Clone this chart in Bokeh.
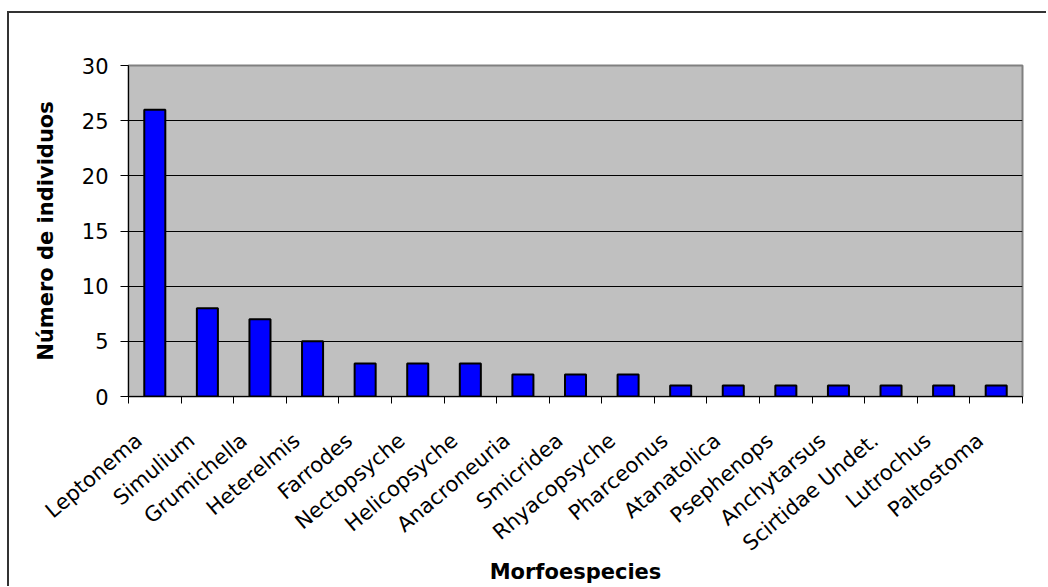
import math
from bokeh.plotting import figure
from bokeh.models import FixedTicker, Range1d
from bokeh.embed import file_html
from bokeh.resources import INLINE

categories = ["Leptonema", "Simulium", "Grumichella", "Heterelmis", "Farrodes",
              "Nectopsyche", "Helicopsyche", "Anacroneuria", "Smicridea",
              "Rhyacopsyche", "Pharceonus", "Atanatolica", "Psephenops",
              "Anchytarsus", "Scirtidae Undet.", "Lutrochus", "Paltostoma"]
values = [26, 8, 7, 5, 3, 3, 3, 2, 2, 2, 1, 1, 1, 1, 1, 1, 1]
y_ticks = [0, 5, 10, 15, 20, 25, 30]

n = len(categories)
centers = [i + 0.5 for i in range(n)]
bounds = [float(i) for i in range(n + 1)]
# label anchors sit slightly left of the bar centres, as in the reference
label_pos = [c - 0.3 for c in centers]

p = figure(frame_width=894, frame_height=331,
           x_range=Range1d(0, n), y_range=Range1d(0, 30),
           output_backend="svg", toolbar_location=None,
           min_border_left=119, min_border_top=52, min_border_right=24,
           min_border_bottom=188, background_fill_color="#C0C0C0",
           border_fill_color="white")
p.styles = {"margin-left": "7px", "margin-top": "11px",
            "border-top": "2px solid #333333",
            "border-left": "2px solid #333333"}

p.vbar(x=centers, top=values, width=0.4, fill_color="#0000FF",
       line_color="black", line_width=2)

p.outline_line_color = "#808080"
p.outline_line_width = 2
p.xgrid.grid_line_color = None
p.ygrid.grid_line_color = "black"
p.ygrid.grid_line_width = 1

FONT = "DejaVu Sans"

xa = p.xaxis[0]
xa.ticker = FixedTicker(ticks=label_pos, minor_ticks=bounds)
xa.major_label_overrides = {c: name for c, name in zip(label_pos, categories)}
xa.major_tick_line_color = None
xa.minor_tick_line_color = "black"
xa.minor_tick_in = 0
xa.minor_tick_out = 7
xa.axis_line_color = "black"
xa.major_label_orientation = 0.70
xa.major_label_text_font = FONT
xa.major_label_text_font_size = "21px"
xa.major_label_text_color = "black"
xa.major_label_standoff = 34
xa.axis_label = "Morfoespecies"
xa.axis_label_text_font = FONT
xa.axis_label_text_font_style = "bold"
xa.axis_label_text_font_size = "21px"
xa.axis_label_text_color = "black"
xa.axis_label_standoff = -8

ya = p.yaxis[0]
ya.ticker = FixedTicker(ticks=y_ticks)
ya.major_tick_in = 0
ya.major_tick_out = 8
ya.minor_tick_line_color = None
ya.axis_line_color = "black"
ya.major_label_text_font = FONT
ya.major_label_text_font_size = "21px"
ya.major_label_text_color = "black"
ya.major_label_standoff = 12
ya.axis_label = "Número de individuos"
ya.axis_label_text_font = FONT
ya.axis_label_text_font_style = "bold"
ya.axis_label_text_font_size = "21px"
ya.axis_label_text_color = "black"
ya.axis_label_standoff = 21

open("out.html", "w").write(file_html(p, INLINE))
